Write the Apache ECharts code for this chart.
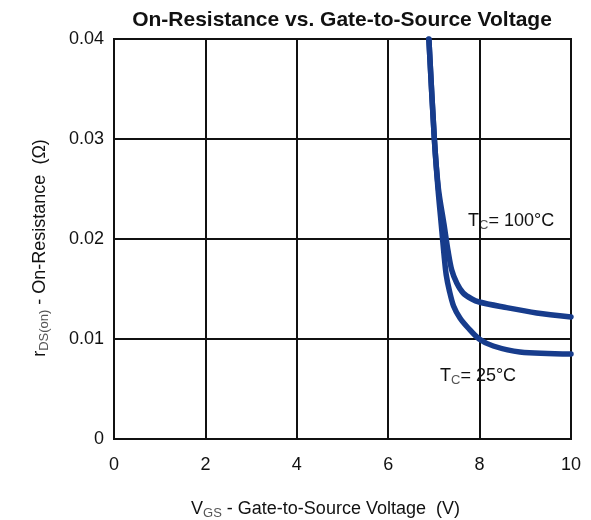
<!DOCTYPE html>
<html>
<head>
<meta charset="utf-8">
<script src="https://cdn.jsdelivr.net/npm/echarts@6/dist/echarts.min.js"></script>
<style>
  html, body { margin: 0; padding: 0; background: #fff; }
  #chart { width: 591px; height: 520px; }
</style>
</head>
<body>
<div id="chart"></div>
<script>
// Gate-to-source voltage (V) and on-resistance (ohm) at two case temperatures
const vgs25  = [6.89, 7.01, 7.09, 7.16, 7.22, 7.27, 7.34, 7.43, 7.57, 7.75, 7.99, 8.30, 8.88, 10.0];
const rds25  = [0.0400, 0.0300, 0.0250, 0.0215, 0.0185, 0.0164, 0.0148, 0.0133, 0.0121, 0.0111, 0.0100, 0.0093, 0.0087, 0.0085];
const vgs100 = [6.89, 7.01, 7.10, 7.22, 7.31, 7.39, 7.50, 7.64, 7.83, 7.99, 8.52, 9.25, 10.0];
const rds100 = [0.0400, 0.0300, 0.0250, 0.0215, 0.0188, 0.0169, 0.0156, 0.0146, 0.0140, 0.0137, 0.0132, 0.0126, 0.0122];

const xTicks = [0, 2, 4, 6, 8, 10];
const yTicks = [0, 0.01, 0.02, 0.03, 0.04];

const font = '"Liberation Sans", Arial, sans-serif';
const lineColor = '#173c8c';

const zip = (xs, ys) => xs.map((x, i) => [x, ys[i]]);

const chart = echarts.init(document.getElementById('chart'), null, { renderer: 'canvas' });

chart.setOption({
  animation: false,
  title: {
    text: 'On-Resistance vs. Gate-to-Source Voltage',
    left: 337, top: 5, textAlign: 'center',
    textStyle: { fontFamily: font, fontWeight: 'bold', fontSize: 21, color: '#111' }
  },
  grid: {
    left: 114, right: 20, top: 39, bottom: 81,
    containLabel: false, outerBoundsMode: 'none',
    show: true, borderColor: '#111', borderWidth: 2
  },
  xAxis: {
    type: 'value', min: 0, max: 10, interval: 2,
    axisLine: { show: false }, axisTick: { show: false },
    splitLine: { lineStyle: { color: '#111', width: 2 } },
    axisLabel: {
      fontFamily: font, fontSize: 18, color: '#111', margin: 17,
      formatter: v => xTicks.includes(v) ? String(v) : ''
    },
    name: '{n|V}{s|GS}{n| - Gate-to-Source Voltage  (V)}',
    nameLocation: 'middle', nameGap: 60,
    nameTextStyle: {
      padding: [0, 34, 0, 0],
      rich: {
        n: { fontFamily: font, fontSize: 18, color: '#111' },
        s: { fontFamily: font, fontSize: 13, color: '#555', padding: [8, 0, 0, 0] }
      }
    }
  },
  yAxis: {
    type: 'value', min: 0, max: 0.04, interval: 0.01,
    axisLine: { show: false }, axisTick: { show: false },
    splitLine: { lineStyle: { color: '#111', width: 2 } },
    axisLabel: {
      fontFamily: font, fontSize: 18, color: '#111', margin: 10,
      formatter: v => yTicks.some(t => Math.abs(t - v) < 1e-9) ? (v === 0 ? '0' : v.toFixed(2)) : ''
    },
    name: '{n|r}{s|DS(on)}{n| - On-Resistance  (Ω)}',
    nameLocation: 'middle', nameGap: 63, nameRotate: 90,
    nameTextStyle: {
      padding: [0, 18, 0, 0],
      rich: {
        n: { fontFamily: font, fontSize: 18, color: '#111' },
        s: { fontFamily: font, fontSize: 13, color: '#555', padding: [8, 0, 0, 0] }
      }
    }
  },
  series: [
    {
      name: 'TC = 25°C', type: 'line', data: zip(vgs25, rds25),
      smooth: 0.3,
      showSymbol: false, clip: true,
      lineStyle: { color: lineColor, width: 5.5, cap: 'round', join: 'round' }
    },
    {
      name: 'TC = 100°C', type: 'line', data: zip(vgs100, rds100),
      smooth: 0.3,
      showSymbol: false, clip: true,
      lineStyle: { color: lineColor, width: 5.5, cap: 'round', join: 'round' }
    }
  ],
  graphic: [
    {
      type: 'text', left: 468, top: 212,
      style: {
        text: '{n|T}{s|C}{n|= 100°C}',
        rich: {
          n: { fontFamily: font, fontSize: 18, fill: '#111' },
          s: { fontFamily: font, fontSize: 13, fill: '#555', padding: [8, 0, 0, 0] }
        }
      }
    },
    {
      type: 'text', left: 440, top: 367,
      style: {
        text: '{n|T}{s|C}{n|= 25°C}',
        rich: {
          n: { fontFamily: font, fontSize: 18, fill: '#111' },
          s: { fontFamily: font, fontSize: 13, fill: '#555', padding: [8, 0, 0, 0] }
        }
      }
    }
  ]
});
</script>
</body>
</html>
